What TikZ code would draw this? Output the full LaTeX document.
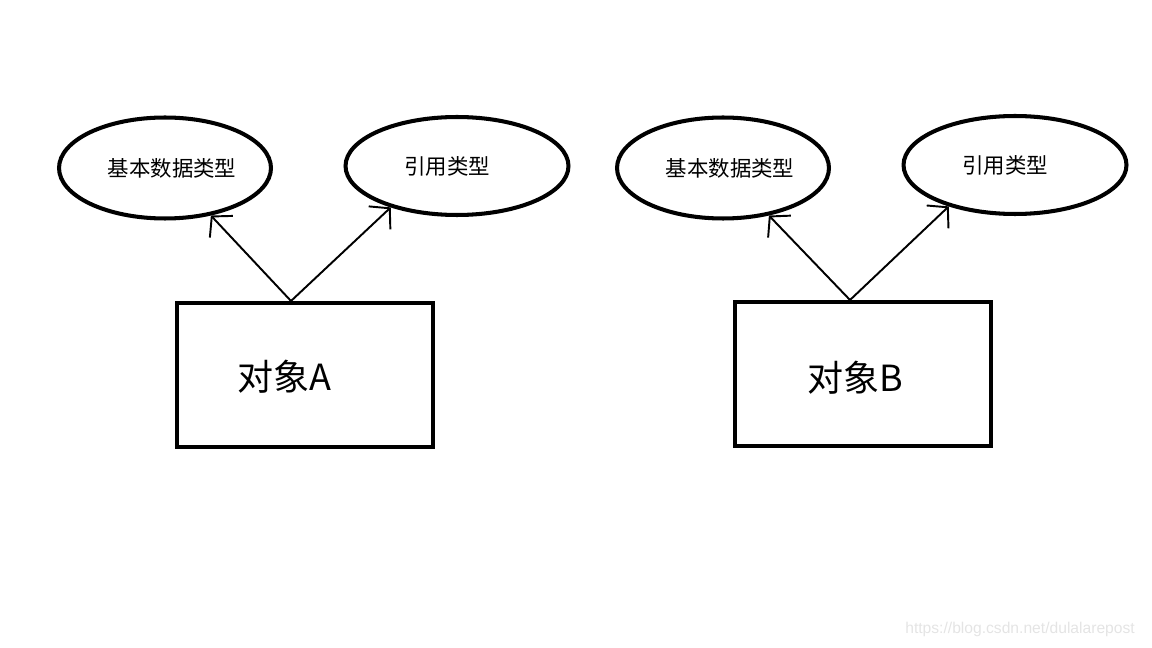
\documentclass[tikz,border=0pt]{standalone}
\usepackage{fontspec}
\setmainfont{Noto Sans CJK SC}
\newfontfamily\markfont{Liberation Sans}
\usepackage{tikz}
\usetikzlibrary{shapes.geometric,arrows.meta}
\definecolor{watermark}{RGB}{228,228,228}

\begin{document}
\begin{tikzpicture}[
    x=0.02cm,y=-0.02cm,
    typeoval/.style={ellipse,draw,line width=2.3pt,inner sep=0pt,minimum width=4.24cm,minimum height=2.02cm,font=\fontsize{12.2}{14}\selectfont},
    objbox/.style={draw,line width=2.3pt,minimum width=5.12cm,minimum height=2.88cm},
    objlabel/.style={font=\fontsize{20.5}{24}\selectfont,inner sep=0pt},
    link/.style={line width=1.1pt,-{Straight Barb[length=8pt,width=18pt,line width=1.1pt]}}
  ]
    \useasboundingbox (0,0) rectangle (1152,648);

    % object A
    \node[objbox] (objA) at (305,375) {};
    \node[objlabel] (objAtext) at (284,377) {对象A};
    \node[typeoval] (basicA) at (165,168) {\hspace*{0.28cm}基本数据类型};
    \node[typeoval,minimum width=4.46cm,minimum height=1.96cm] (refA) at (457,166) {\hspace*{-0.4cm}引用类型};
    \coordinate (forkA) at ([xshift=-0.28cm]objA.north);

    % object B
    \node[objbox] (objB) at (863,374) {};
    \node[objlabel] (objBtext) at (855,378) {对象B};
    \node[typeoval] (basicB) at (723,168) {\hspace*{0.28cm}基本数据类型};
    \node[typeoval,minimum width=4.46cm,minimum height=1.96cm] (refB) at (1015,165) {\hspace*{-0.4cm}引用类型};
    \coordinate (forkB) at ([xshift=-0.26cm]objB.north);

    \draw[link] (forkA) -- (basicA.-46);
    \draw[link] (forkA) -- (refA.-148);
    \draw[link] (forkB) -- (basicB.-46);
    \draw[link] (forkB) -- (refB.-148);

    \node[text=watermark,font=\markfont\fontsize{8.9}{11}\selectfont,anchor=east] (mark) at (1141,629) {https://blog.csdn.net/dulalarepost};
  \end{tikzpicture}
\end{document}
